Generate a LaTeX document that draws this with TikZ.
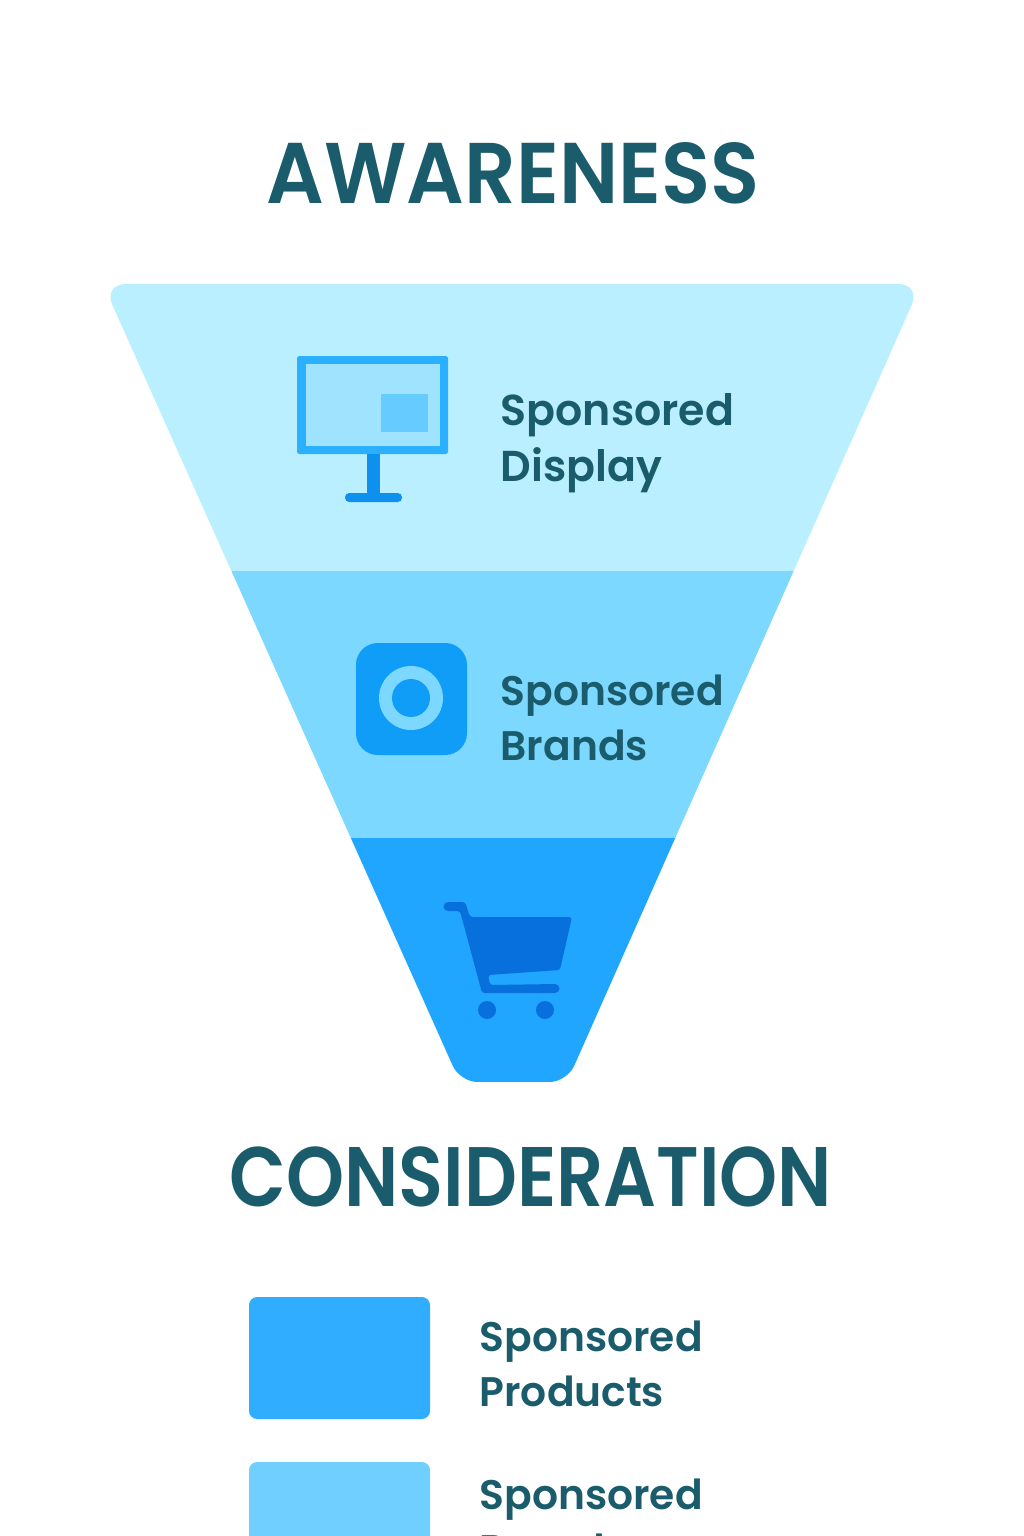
\documentclass[tikz,border=0pt]{standalone}
\usepackage{fontspec}
\setmainfont{Poppins}
\newfontfamily\medfont[FakeStretch=0.987]{Poppins SemiBold}
\newfontfamily\boldfont[FakeStretch=0.935]{Poppins SemiBold}
\newfontfamily\narrowfont[FakeStretch=0.875]{Poppins SemiBold}
\definecolor{inkteal}{HTML}{1A5C6B}
\definecolor{bandtop}{HTML}{B9EFFF}
\definecolor{bandmid}{HTML}{7CD8FF}
\definecolor{bandlow}{HTML}{20A6FF}
\definecolor{framecol}{HTML}{2BB0FF}
\definecolor{screencol}{HTML}{A0E3FF}
\definecolor{insetcol}{HTML}{66CCFF}
\definecolor{standcol}{HTML}{0E90EE}
\definecolor{iconcol}{HTML}{0F9DF8}
\definecolor{cartcol}{HTML}{0870DC}
\definecolor{keyone}{HTML}{30ADFF}
\definecolor{keytwo}{HTML}{70CFFF}
\tikzset{
    heading/.style={text=inkteal,inner sep=0pt},
    product/.style={text=inkteal,inner sep=0pt,anchor=north west,align=left,font=\medfont\fontsize{11.75}{15.6}\selectfont},
}
\begin{document}
\begin{tikzpicture}[x=0.01cm,y=-0.01cm]
    \useasboundingbox (0,0) rectangle (1024,1536);
    \clip (0,0) rectangle (1024,1536);

    \begin{scope}
        \clip[rounded corners=6.5pt] (512,284) -- (103,284) [rounded corners=5pt] -- (460,1082) -- (567,1082) [rounded corners=6.5pt] -- (921,284) -- cycle;
        \fill[bandtop] (90,284) rectangle (934,571);
        \fill[bandmid] (90,571) rectangle (934,838);
        \fill[bandlow] (90,838) rectangle (934,1082);
    \end{scope}

    \node[heading,font=\boldfont\fontsize{24.5}{28}\selectfont] (awareness) at (513,173) {AWARENESS};
    \node[heading,font=\narrowfont\fontsize{24}{28}\selectfont] (consideration) at (531,1177) {CONSIDERATION};

    \fill[framecol,rounded corners=0.7pt] (297,356) rectangle (448,454);
    \fill[screencol] (306,364) rectangle (440,446);
    \fill[insetcol] (381,394) rectangle (428,432);
    \fill[standcol] (367,454) rectangle (380,494);
    \fill[standcol,rounded corners=1.2pt] (345,493) rectangle (402,502);

    \fill[iconcol,rounded corners=6.2pt] (356,643) rectangle (467,755);
    \fill[bandmid] (411,698) circle (32);
    \fill[iconcol] (411,698) circle (19);

    \fill[cartcol] (448,902) [rounded corners=0.8pt] -- (465,902) -- (470,917) -- (572,917) -- (560,970) -- (488,975) -- (490,985) [sharp corners] -- (555,984) arc (270:450:4.5) [rounded corners=0.8pt] -- (482,993) -- (460,911) [sharp corners] -- (448,911) arc (90:270:4.5) -- cycle;
    \fill[cartcol] (487,1010) circle (9);
    \fill[cartcol] (545,1010) circle (9);

    \fill[keyone,rounded corners=2.3pt] (249,1297) rectangle (430,1419);
    \fill[keytwo,rounded corners=2.3pt] (249,1462) rectangle (430,1600);

    \node[product,font=\medfont\fontsize{12.3}{15.8}\selectfont] (display) at (500,393) {Sponsored\\Display};
    \node[product] (brands) at (500,674) {Sponsored\\Brands};
    \node[product] (products) at (479,1320) {Sponsored\\Products};
    \node[product] (brandskey) at (479,1478) {Sponsored\\Brands};
\end{tikzpicture}
\end{document}
